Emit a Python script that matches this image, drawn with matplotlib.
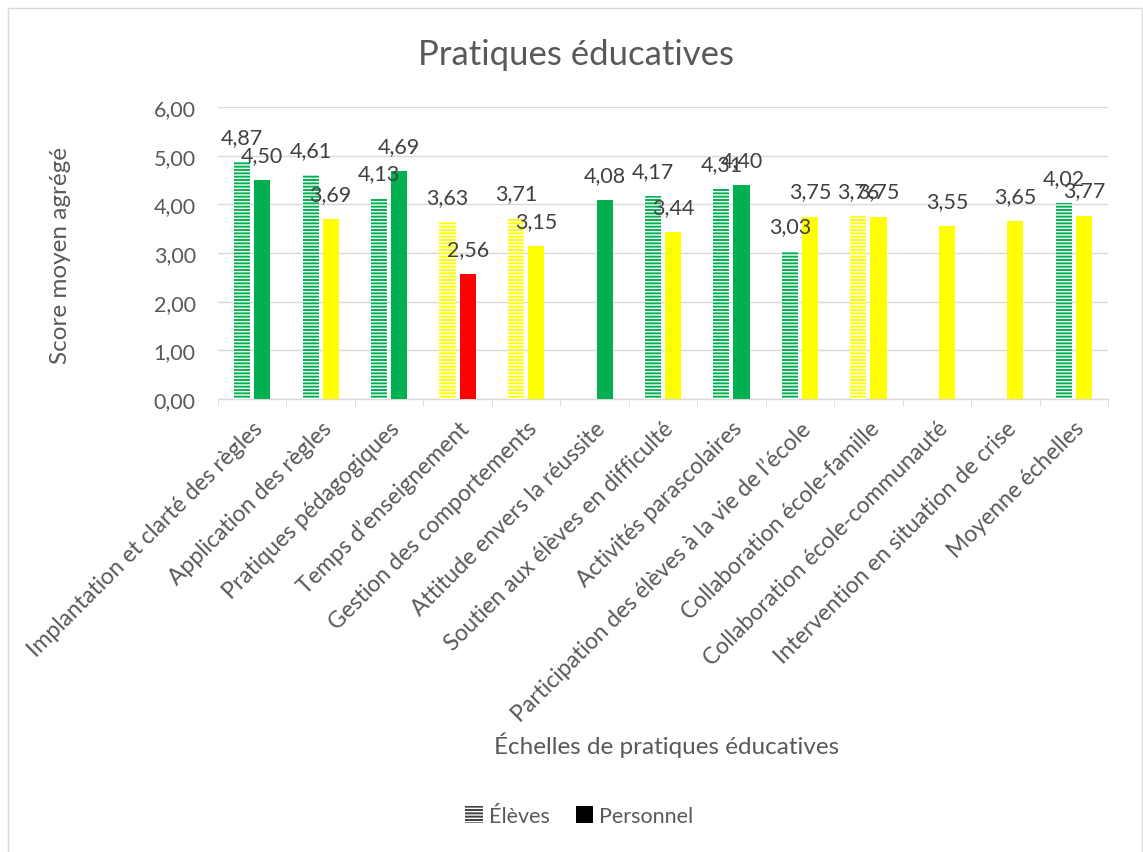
import numpy as np
import matplotlib
matplotlib.use("Agg")
import matplotlib.pyplot as plt
from matplotlib.patches import Patch, Rectangle
from matplotlib.ticker import FuncFormatter, FixedLocator

plt.rcParams['font.family'] = ['Lato', 'DejaVu Sans']
plt.rcParams['hatch.linewidth'] = 1.0

# Echelles et scores moyens
echelles = [
    "Implantation et clarté des règles",
    "Application des règles",
    "Pratiques pédagogiques",
    "Temps d’enseignement",
    "Gestion des comportements",
    "Attitude envers la réussite",
    "Soutien aux élèves en difficulté",
    "Activités parascolaires",
    "Participation des élèves à la vie de l’école",
    "Collaboration école-famille",
    "Collaboration école-communauté",
    "Intervention en situation de crise",
    "Moyenne échelles",
]
eleves = [4.87, 4.61, 4.13, 3.63, 3.71, np.nan, 4.17, 4.31, 3.03, 3.76, np.nan, np.nan, 4.02]
personnel = [4.50, 3.69, 4.69, 2.56, 3.15, 4.08, 3.44, 4.40, 3.75, 3.75, 3.55, 3.65, 3.77]

VERT = "#00B050"
JAUNE = "#FFFF00"
ROUGE = "#FF0000"
couleurs_eleves = [VERT, VERT, VERT, JAUNE, JAUNE, VERT, VERT, VERT, VERT, JAUNE, JAUNE, JAUNE, VERT]
couleurs_personnel = [VERT, JAUNE, VERT, ROUGE, JAUNE, VERT, JAUNE, VERT, JAUNE, JAUNE, JAUNE, JAUNE, JAUNE]
GRIS = "#595959"

fig = plt.figure(figsize=(11.43, 8.53), dpi=100)
# cadre du graphique
fig.patches.append(Rectangle((8 / 1143, -0.05), 1134 / 1143, 1.05 - 9 / 853,
                             transform=fig.transFigure, fill=False,
                             edgecolor="#D9D9D9", linewidth=1))
ax = fig.add_axes([0.1907, 0.531, 0.7787, 0.3424])

x = np.arange(len(echelles))
largeur = 0.235
decal = 0.147

barres_e = ax.bar(x - decal, eleves, largeur, color=couleurs_eleves, edgecolor="white",
                  linewidth=0, hatch="-----", zorder=3)
barres_p = ax.bar(x + decal, personnel, largeur, color=couleurs_personnel, linewidth=0, zorder=3)

def fmt(v):
    return f"{v:.2f}".replace(".", ",")

for barres, valeurs in [(barres_e, eleves), (barres_p, personnel)]:
    for b, v in zip(barres, valeurs):
        if np.isnan(v):
            continue
        ax.annotate(fmt(v), (b.get_x() + b.get_width() / 2, v), xytext=(0, 18),
                    textcoords="offset points", ha="center", va="center",
                    fontsize=15.5, color="#404040", zorder=4)

ax.set_ylim(0, 6)
ax.set_xlim(-0.5, len(echelles) - 0.5)
ax.set_yticks(np.arange(0, 7, 1))
ax.yaxis.set_major_formatter(FuncFormatter(lambda v, p: fmt(v)))
ax.grid(axis="y", color="#D9D9D9", linewidth=1, zorder=0)
for s in ["top", "right", "left"]:
    ax.spines[s].set_visible(False)
ax.spines["bottom"].set_color("#D9D9D9")
ax.spines["bottom"].set_linewidth(1)

ax.set_xticks(x)
ax.set_xticklabels(echelles, rotation=45, ha="right", rotation_mode="anchor",
                   fontsize=16.5, color=GRIS)
ax.xaxis.set_minor_locator(FixedLocator(np.arange(-0.5, len(echelles), 1)))
ax.tick_params(axis="x", which="major", length=0, pad=13)
ax.tick_params(axis="x", which="minor", length=5, color="#D9D9D9")
ax.tick_params(axis="y", length=0, labelsize=15.5, labelcolor=GRIS, pad=16)

fig.text(0.504, 0.935, "Pratiques éducatives", fontsize=25, color=GRIS,
         ha="center", va="center")
fig.text(0.0525, 0.701, "Score moyen agrégé", fontsize=17.5, color=GRIS,
         ha="center", va="center", rotation=90)
fig.text(0.583, 0.1266, "Échelles de pratiques éducatives", fontsize=17.5,
         color=GRIS, ha="center", va="center")

poignees = [Patch(facecolor="#404040", edgecolor="white", hatch="-----", linewidth=0),
            Patch(facecolor="black")]
fig.legend(poignees, ["Élèves", "Personnel"], loc="center", bbox_to_anchor=(0.507, 0.042),
           ncol=2, frameon=False, fontsize=15.5, labelcolor=GRIS,
           handlelength=0.8, handleheight=0.8, handletextpad=0.3, columnspacing=1.2)

fig.savefig("out.png", dpi=100)
